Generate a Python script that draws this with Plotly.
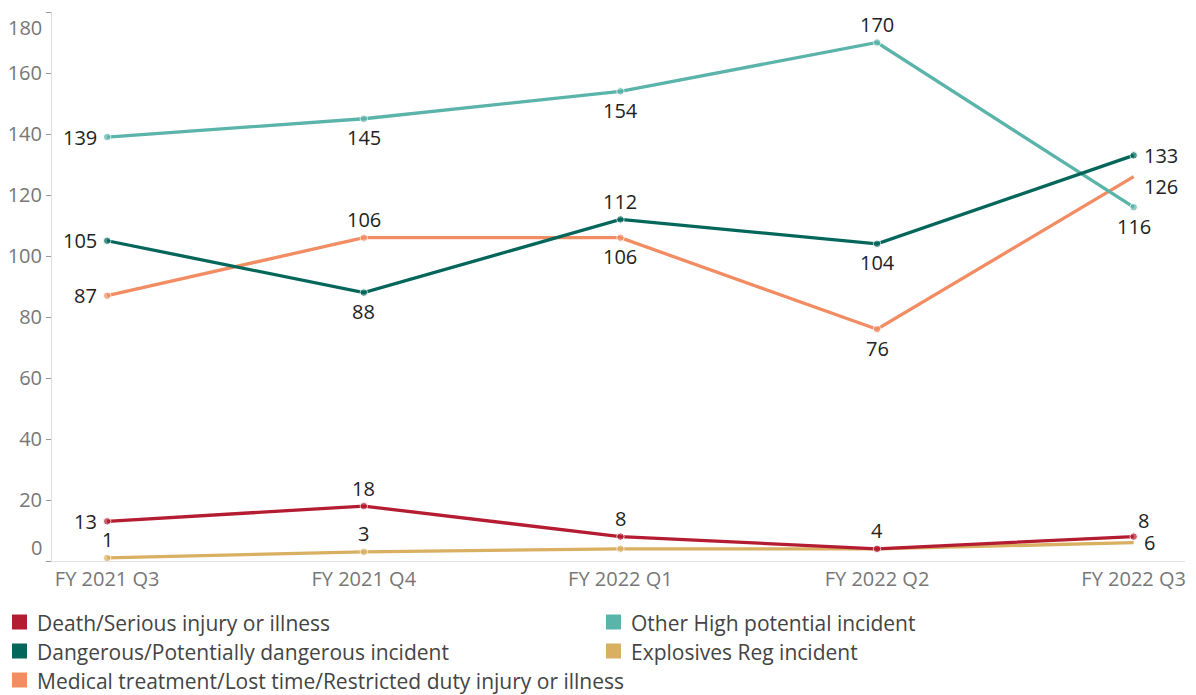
import plotly.graph_objects as go

quarters = ["FY 2021 Q3", "FY 2021 Q4", "FY 2022 Q1", "FY 2022 Q2", "FY 2022 Q3"]

death = [13, 18, 8, 4, 8]
dangerous = [105, 88, 112, 104, 133]
medical = [87, 106, 106, 76, 126]
other_high = [139, 145, 154, 170, 116]
explosives = [1, 3, 4, 4, 6]

y_ticks = [0, 20, 40, 60, 80, 100, 120, 140, 160, 180]

# label placement codes: L=left, B=below, T=above, R=right, TR=above-right, BR=below-right, N=none
series = [
    ("Explosives Reg incident", explosives, "#D9B062",
     ["T", "T", "N", "N", "R"], [True, True, True, True, False]),
    ("Medical treatment/Lost time/Restricted duty injury or illness", medical, "#F28C62",
     ["L", "T", "B", "B", "BR"], [True, True, True, True, False]),
    ("Other High potential incident", other_high, "#5BB4AA",
     ["L", "B", "B", "T", "B"], [True] * 5),
    ("Dangerous/Potentially dangerous incident", dangerous, "#03665A",
     ["L", "B", "T", "B", "R"], [True] * 5),
    ("Death/Serious injury or illness", death, "#B41C32",
     ["L", "T", "T", "T", "TR"], [True] * 5),
]

offsets = {
    "L": dict(xanchor="right", xshift=-8, yshift=0),
    "B": dict(xanchor="center", xshift=0, yshift=-19),
    "T": dict(xanchor="center", xshift=0, yshift=18),
    "R": dict(xanchor="left", xshift=8, yshift=0),
    "BR": dict(xanchor="left", xshift=8, yshift=-10),
    "TR": dict(xanchor="center", xshift=10, yshift=16),
}

# legend layout: (name, color, column, row)
legend_items = [
    ("Death/Serious injury or illness", "#B41C32", 0, 0),
    ("Dangerous/Potentially dangerous incident", "#03665A", 0, 1),
    ("Medical treatment/Lost time/Restricted duty injury or illness", "#F28C62", 0, 2),
    ("Other High potential incident", "#5BB4AA", 1, 0),
    ("Explosives Reg incident", "#D9B062", 1, 1),
]

# figure geometry (page is offset by 8px body margin)
W, H = 1188, 687
ML, MR, MT, MB = 44, 11, 4, 134
PW, PH = W - ML - MR, H - MT - MB


def px_x(x):  # figure pixel -> paper x
    return (x - ML) / PW


def px_y(y):  # figure pixel (from top) -> paper y
    return (H - MB - y) / PH


fig = go.Figure()
annotations = []
shapes = []
for name, vals, color, pos, show_mk in series:
    fig.add_trace(go.Scatter(
        x=quarters, y=vals, mode="lines+markers", name=name,
        line=dict(color=color, width=3.3),
        marker=dict(color=color, size=[7.5 if m else 0 for m in show_mk]),
        showlegend=False, cliponaxis=False,
    ))
    for q, v, p in zip(quarters, vals, pos):
        if p == "N":
            continue
        o = offsets[p]
        annotations.append(dict(
            x=q, y=v, xref="x", yref="y", text=str(v), showarrow=False,
            xanchor=o["xanchor"], yanchor="middle",
            xshift=o["xshift"], yshift=o["yshift"],
            font=dict(family="Open Sans", size=20, color="#222222"),
        ))

col_x = [4, 598]
row_y = [614, 643, 672]
sq = 15
for name, color, c, r in legend_items:
    x0 = col_x[c]
    yc = row_y[r]
    shapes.append(dict(
        type="rect", xref="paper", yref="paper",
        x0=px_x(x0), x1=px_x(x0 + sq), y0=px_y(yc + sq / 2), y1=px_y(yc - sq / 2),
        fillcolor=color, line=dict(width=0),
    ))
    annotations.append(dict(
        x=px_x(x0 + sq + 8), y=px_y(yc + 1), xref="paper", yref="paper",
        xanchor="left", yanchor="middle", showarrow=False, text=name,
        font=dict(family="Open Sans", size=21, color="#444444"),
    ))

tick_text = ["" if t in (0, 180) else str(t) for t in y_ticks]

for t, shift in ((0, 14), (180, -15)):
    annotations.append(dict(
        x=0, xref="paper", y=t, yref="y", xanchor="right", yanchor="middle",
        xshift=-8, yshift=shift, showarrow=False, text=str(t),
        font=dict(family="Open Sans", size=20, color="#777777"),
    ))

fig.update_layout(
    width=W, height=H,
    margin=dict(l=ML, r=MR, t=MT, b=MB, autoexpand=False),
    plot_bgcolor="white", paper_bgcolor="white",
    font=dict(family="Open Sans", size=20, color="#555555"),
    showlegend=False,
    xaxis=dict(
        type="category", range=[-0.215, 4.2],
        showgrid=False, showline=True, linecolor="#e0e0e0", linewidth=1,
        ticks="", tickfont=dict(size=20, color="#777777"), zeroline=False,
    ),
    yaxis=dict(
        range=[0, 180], tickvals=y_ticks, ticktext=tick_text,
        showgrid=False, zeroline=False,
        showline=True, linecolor="#dddddd", linewidth=1,
        ticks="outside", ticklen=5, tickcolor="#999999",
        tickfont=dict(size=20, color="#777777"),
    ),
    annotations=annotations,
    shapes=shapes,
)

fig.write_html("out.html")
